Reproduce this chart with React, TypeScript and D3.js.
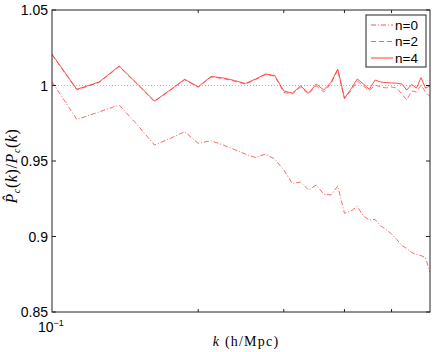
import React from 'react'
import * as d3 from 'd3'

// k bins (h/Mpc)
const kBins = [
  0.1, 0.1125, 0.125, 0.1375, 0.15, 0.1625, 0.175, 0.1875, 0.2, 0.2125,
  0.225, 0.2375, 0.25, 0.2625, 0.275, 0.2875, 0.3, 0.3125, 0.325, 0.3375,
  0.35, 0.3625, 0.375, 0.3875, 0.4, 0.4125, 0.425, 0.4375, 0.45, 0.4625,
  0.475, 0.4875, 0.5, 0.5125, 0.525, 0.5375, 0.55, 0.5625, 0.575, 0.5875, 0.6,
]

const ratioN0 = [
  1.0025, 0.9775, 0.9825, 0.9871, 0.9738, 0.9606, 0.9649, 0.9694, 0.9617, 0.9634,
  0.9606, 0.9576, 0.9546, 0.9523, 0.9546, 0.9513, 0.944, 0.9351, 0.9361, 0.9308,
  0.9341, 0.9281, 0.9275, 0.9334, 0.9154, 0.9169, 0.9199, 0.9136, 0.9109, 0.9113,
  0.907, 0.9046, 0.9017, 0.898, 0.894, 0.8921, 0.8894, 0.8881, 0.8874, 0.8858, 0.8765,
]

const ratioN2 = [
  1.0203, 0.9971, 1.002, 1.0125, 1.0006, 0.9893, 0.9967, 1.0038, 0.9989, 1.0056,
  1.0046, 1.0029, 1.0009, 1.0039, 1.0072, 1.0062, 0.9954, 0.9944, 0.999, 0.9944,
  0.9997, 0.9957, 1.001, 1.0103, 0.9914, 0.9964, 1.003, 0.9997, 0.9967, 1.0003,
  0.999, 0.9984, 0.999, 0.9984, 0.9944, 0.9904, 0.9964, 0.9957, 1.0003, 0.9957, 0.9926,
]

const ratioN4 = [
  1.0207, 0.9975, 1.0023, 1.0129, 1.001, 0.9897, 0.997, 1.0041, 0.9992, 1.006,
  1.005, 1.0033, 1.0013, 1.0043, 1.0076, 1.0066, 0.9964, 0.995, 0.9997, 0.995,
  1.001, 0.997, 1.002, 1.0109, 0.9915, 0.9977, 1.0043, 1.001, 0.9975, 1.0036,
  1.0023, 1.0019, 1.0017, 1.0015, 1.001, 0.997, 1.0007, 0.9983, 1.0052, 0.9983, 0.9997,
]

const yTicks = [0.85, 0.9, 0.95, 1, 1.05]
const yTickLabels = ['0.85', '0.9', '0.95', '1', '1.05']
const xMinorTicks = [0.2, 0.3, 0.4, 0.5]
const legendNames = ['n=0', 'n=2', 'n=4']

const W = 436, H = 352
const margin = { left: 52, right: 6, top: 10, bottom: 40 }

const series = [
  { name: legendNames[0], values: ratioN0, color: '#ff5555', dash: '5,2,1,2' },
  { name: legendNames[1], values: ratioN2, color: '#ff6060', dash: '5,3' },
  { name: legendNames[2], values: ratioN4, color: '#ff3c3c', dash: null },
]

export default function App() {
  const x = d3.scaleLog().domain([0.1, 0.6]).range([margin.left, W - margin.right])
  const y = d3.scaleLinear().domain([0.85, 1.05]).range([H - margin.bottom, margin.top])
  const x0 = margin.left, x1 = W - margin.right
  const y0 = H - margin.bottom, y1 = margin.top
  const font = 'Liberation Sans, Arial, Helvetica, sans-serif'
  const serif = 'Liberation Serif, Times New Roman, serif'

  const line = (vals: number[]) =>
    d3.line<number>().x((_, i) => x(kBins[i])).y(d => y(d))(vals) || ''

  const lx = 366, ly = 15, lw = 60, lh = 52

  return (
    <svg width={W} height={H} style={{ position: 'absolute', left: 0, top: 0, background: '#fff' }}>
      <defs>
        <clipPath id="plot">
          <rect x={x0} y={y1} width={x1 - x0} height={y0 - y1} />
        </clipPath>
      </defs>
      <rect width={W} height={H} fill="#fff" />

      {/* reference line at 1 */}
      <line x1={x0} x2={x1} y1={y(1)} y2={y(1)} stroke="#b8b8b8" strokeDasharray="1,2" />

      <g clipPath="url(#plot)">
        {series.map(s => (
          <path key={s.name} d={line(s.values)} fill="none" stroke={s.color}
            strokeWidth={0.9} strokeDasharray={s.dash || undefined} />
        ))}
      </g>

      {/* frame */}
      <rect x={x0} y={y1} width={x1 - x0} height={y0 - y1} fill="none" stroke="#222" strokeWidth={1} />

      {/* y ticks */}
      {yTicks.map((t, i) => (
        <g key={'y' + t}>
          <line x1={x0} x2={x0 + 4} y1={y(t)} y2={y(t)} stroke="#222" />
          <line x1={x1 - 4} x2={x1} y1={y(t)} y2={y(t)} stroke="#222" />
          <text x={x0 - 4} y={y(t)} dy="0.36em" textAnchor="end" fontSize={14} fontFamily={font}>
            {yTickLabels[i]}
          </text>
        </g>
      ))}

      {/* x ticks */}
      {xMinorTicks.map(t => (
        <g key={'x' + t}>
          <line x1={x(t)} x2={x(t)} y1={y0} y2={y0 - 3} stroke="#222" />
          <line x1={x(t)} x2={x(t)} y1={y1} y2={y1 + 3} stroke="#222" />
        </g>
      ))}
      <text x={x(0.1) - 14} y={y0 + 20} fontSize={14} fontFamily={font}>
        10<tspan dy={-6} fontSize={9}>−1</tspan>
      </text>

      {/* axis labels */}
      <text x={246} y={346} textAnchor="middle" fontSize={14} fontFamily={serif}>
        <tspan fontStyle="italic">k</tspan>
        <tspan dx={6} letterSpacing={1.2}>(h/Mpc)</tspan>
      </text>
      <text transform={`translate(17,166) rotate(-90)`} textAnchor="middle" fontSize={16}
        fontFamily={serif} letterSpacing={0.6}>
        <tspan fontStyle="italic">P̂</tspan>
        <tspan fontSize={10} fontStyle="italic" dy={3}>c</tspan>
        <tspan dy={-3}>(</tspan>
        <tspan fontStyle="italic">k</tspan>
        <tspan>)/</tspan>
        <tspan fontStyle="italic">P</tspan>
        <tspan fontSize={10} fontStyle="italic" dy={3}>c</tspan>
        <tspan dy={-3}>(</tspan>
        <tspan fontStyle="italic">k</tspan>
        <tspan>)</tspan>
      </text>

      {/* legend */}
      <rect x={lx} y={ly} width={lw} height={lh} fill="#fff" stroke="#222" strokeWidth={1} />
      {series.map((s, i) => {
        const ry = ly + 10 + i * 16.5
        return (
          <g key={'lg' + s.name}>
            <line x1={lx + 5} x2={lx + 27} y1={ry} y2={ry} stroke={s.color}
              strokeDasharray={s.dash || undefined} />
            <text x={lx + 29} y={ry} dy="0.36em" fontSize={13.5} fontFamily={font}>{s.name}</text>
          </g>
        )
      })}
    </svg>
  )
}
